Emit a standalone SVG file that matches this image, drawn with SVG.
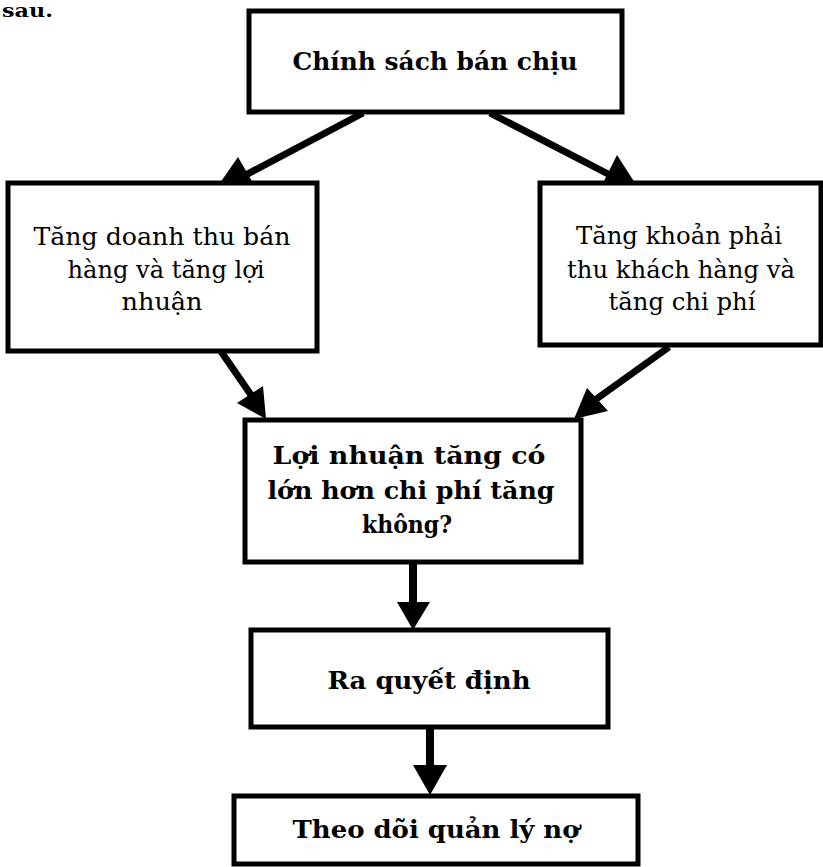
<svg xmlns="http://www.w3.org/2000/svg" width="823" height="867" viewBox="0 0 823 867">
<style>
.box{fill:#fff;stroke:#000;stroke-width:5}
.b{font-family:"DejaVu Serif","Liberation Serif",serif;font-weight:bold;font-size:25px;fill:#000;text-anchor:middle}
.r{font-family:"DejaVu Serif","Liberation Serif",serif;font-size:25px;fill:#000;text-anchor:middle}
.ln{stroke:#000;stroke-width:7;fill:none}
.hd{fill:#000;stroke:none}
</style>
<rect width="823" height="867" fill="#fff"/>
<text x="2" y="17" font-family="DejaVu Serif, serif" font-weight="bold" font-size="18" fill="#000" textLength="51" lengthAdjust="spacingAndGlyphs">sau.</text>
<g id="connectors">
<line class="ln" x1="363" y1="113" x2="240" y2="178"/>
<polygon class="hd" points="220,183 238,157 253,183"/>
<line class="ln" x1="490" y1="113" x2="612" y2="176"/>
<polygon class="hd" points="603,183 617,155 635,183"/>
<line class="ln" x1="220" y1="350" x2="258" y2="405"/>
<polygon class="hd" points="266,419 237,403 263,386"/>
<line class="ln" x1="669" y1="347" x2="595" y2="400"/>
<polygon class="hd" points="574,419 587,388 608,411"/>
<line class="ln" x1="413" y1="562" x2="413" y2="606" style="stroke-width:8"/>
<polygon class="hd" points="397,602 430,602 413,630"/>
<line class="ln" x1="430" y1="727" x2="430" y2="769" style="stroke-width:8"/>
<polygon class="hd" points="413,765 447,765 430,795"/>
</g>
<g id="n1">
<rect class="box" x="249" y="11" width="373" height="101"/>
<text class="b" x="435" y="70" textLength="285" lengthAdjust="spacingAndGlyphs">Chính sách bán chịu</text>
</g>
<g id="n2">
<rect class="box" x="8" y="183" width="309" height="168"/>
<text class="r" x="162" y="245" textLength="257" lengthAdjust="spacingAndGlyphs">Tăng doanh thu bán</text>
<text class="r" x="166" y="278" textLength="197" lengthAdjust="spacingAndGlyphs">hàng và tăng lợi</text>
<text class="r" x="162" y="310" textLength="81" lengthAdjust="spacingAndGlyphs">nhuận</text>
</g>
<g id="n3">
<rect class="box" x="540" y="183" width="281" height="162"/>
<text class="r" x="679" y="244" textLength="206" lengthAdjust="spacingAndGlyphs">Tăng khoản phải</text>
<text class="r" x="681" y="278" textLength="228" lengthAdjust="spacingAndGlyphs">thu khách hàng và</text>
<text class="r" x="682" y="310" textLength="147" lengthAdjust="spacingAndGlyphs">tăng chi phí</text>
</g>
<g id="n4">
<rect class="box" x="245" y="420" width="336" height="142"/>
<text class="b" x="409" y="464" textLength="273" lengthAdjust="spacingAndGlyphs">Lợi nhuận tăng có</text>
<text class="b" x="411" y="499" textLength="287" lengthAdjust="spacingAndGlyphs">lớn hơn chi phí tăng</text>
<text class="b" x="407" y="533" textLength="90" lengthAdjust="spacingAndGlyphs">không?</text>
</g>
<g id="n5">
<rect class="box" x="251" y="630" width="357" height="97"/>
<text class="b" x="429" y="689" textLength="203" lengthAdjust="spacingAndGlyphs">Ra quyết định</text>
</g>
<g id="n6">
<rect class="box" x="234" y="796" width="404" height="68"/>
<text class="b" x="436" y="838" textLength="287" lengthAdjust="spacingAndGlyphs">Theo dõi quản lý nợ</text>
</g>
</svg>
